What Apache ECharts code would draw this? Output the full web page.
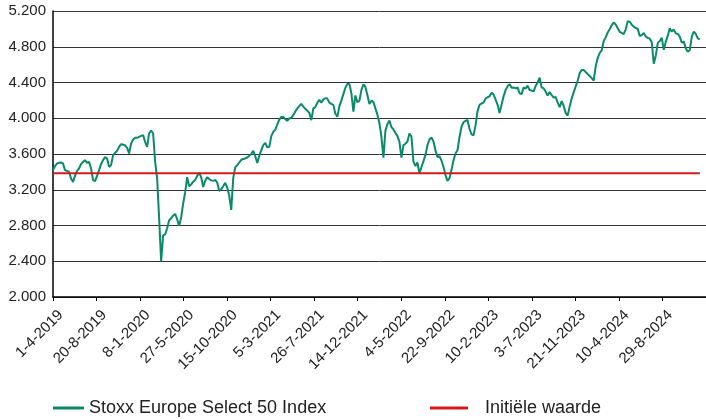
<!DOCTYPE html>
<html>
<head>
<meta charset="utf-8">
<script src="https://cdn.jsdelivr.net/npm/echarts@6/dist/echarts.min.js"></script>
<style>
  html, body { margin: 0; padding: 0; background: #fff; }
  #chart { width: 706px; height: 419px; }
</style>
</head>
<body>
<div id="chart"></div>
<script>
// tick labels on the x axis, one every 100 trading days
const tickLabels = ['1-4-2019', '20-8-2019', '8-1-2020', '27-5-2020', '15-10-2020', '5-3-2021',
    '26-7-2021', '14-12-2021', '4-5-2022', '22-9-2022', '10-2-2023', '3-7-2023',
    '21-11-2023', '10-4-2024', '29-8-2024'];

// one reading every STEP trading days
const STEP = 4.6;
const indexValues = [
    3419, 3464, 3494, 3501, 3505, 3494, 3419, 3412, 3400, 3326,
    3288, 3355, 3412, 3438, 3486, 3512, 3531, 3501, 3512, 3438,
    3307, 3296, 3355, 3419, 3486, 3531, 3565, 3550, 3456, 3475,
    3587, 3613, 3635, 3680, 3710, 3706, 3695, 3669, 3606, 3718,
    3762, 3781, 3781, 3792, 3803, 3811, 3736, 3680, 3830, 3863,
    3830, 3512, 3330, 2880, 2400, 2690, 2700, 2770, 2860, 2880,
    2910, 2930, 2870, 2795, 2890, 3046, 3170, 3340, 3240, 3260,
    3290, 3310, 3355, 3390, 3340, 3230, 3300, 3340, 3320, 3305,
    3300, 3310, 3280, 3185, 3205, 3240, 3278, 3225, 3135, 2975,
    3330, 3450, 3475, 3505, 3535, 3545, 3550, 3561, 3580, 3600,
    3635, 3575, 3500, 3580, 3640, 3700, 3725, 3675, 3680, 3800,
    3848, 3870, 3930, 3985, 4015, 4016, 3990, 3972, 3998, 4005,
    4035, 4075, 4110, 4135, 4160, 4130, 4105, 4085, 4060, 3979,
    4110, 4125, 4175, 4205, 4175, 4210, 4225, 4220, 4175, 4160,
    4150, 4050, 4016, 4136, 4197, 4270, 4342, 4383, 4383, 4280,
    4074, 4255, 4180, 4195, 4315, 4380, 4350, 4260, 4160, 4197,
    4180, 4110, 4040, 3945, 3792, 3560, 3862, 3934, 3975, 3900,
    3875, 3835, 3800, 3736, 3560, 3700, 3715, 3740, 3830, 3795,
    3515, 3465, 3505, 3380, 3455, 3520, 3590, 3700, 3762, 3785,
    3740, 3640, 3565, 3575, 3525, 3456, 3363, 3300, 3330, 3420,
    3530, 3606, 3643, 3790, 3905, 3955, 3970, 3980, 3880, 3820,
    3810, 3920, 4080, 4150, 4165, 4175, 4220, 4235, 4245, 4285,
    4265, 4210, 4150, 4060, 4150, 4245, 4315, 4360, 4380, 4340,
    4345, 4335, 4345, 4280, 4270, 4345, 4330, 4365, 4315, 4310,
    4300, 4360, 4400, 4455, 4345, 4335, 4300, 4255, 4293, 4260,
    4230, 4240, 4175, 4125, 4192, 4140, 4060, 4030, 4130, 4220,
    4290, 4355, 4420, 4505, 4539, 4539, 4517, 4494, 4472, 4449,
    4420, 4580, 4675, 4730, 4760, 4865, 4905, 4960, 4995, 5040,
    5070, 5050, 5008, 4967, 4955, 4940, 4995, 5085, 5080, 5047,
    5025, 5010, 5000, 4920, 4930, 4955, 4915, 4900, 4890, 4850,
    4610, 4700, 4840, 4865, 4900, 4765, 4855, 4924, 5006, 4969,
    4995, 4950, 4943, 4913, 4846, 4857, 4782, 4745, 4764, 4913,
    4969, 4943, 4894, 4883
];

const initialValue = 3385;
const seriesNames = ['Stoxx Europe Select 50 Index', 'Initiële waarde'];

const FONT = "'Liberation Sans', Arial, sans-serif";
const GREEN = '#0a8a68';
const RED = '#d7191c';

// 5200 -> "5.200"
function fmtThousands(v) {
    return String(v).replace(/\B(?=(\d{3})+(?!\d))/g, '.');
}

const chart = echarts.init(document.getElementById('chart'), null, { renderer: 'canvas' });

const lineData = indexValues.map((v, i) => [i * STEP, v]);
const lastX = (indexValues.length - 1) * STEP;

chart.setOption({
    animation: false,
    grid: { left: 53, right: 0, top: 11, bottom: 122, containLabel: false },
    legend: [{
        data: [seriesNames[0]],
        left: 53,
        top: 399,
        padding: 0,
        icon: 'rect',
        itemWidth: 31,
        itemHeight: 3,
        textStyle: { fontFamily: FONT, fontSize: 18, color: '#222' }
    }, {
        data: [seriesNames[1]],
        left: 430,
        top: 399,
        padding: 0,
        icon: 'rect',
        itemWidth: 38,
        itemHeight: 3,
        textStyle: { fontFamily: FONT, fontSize: 18, color: '#222', padding: [0, 0, 0, 12] }
    }],
    xAxis: {
        type: 'value',
        min: 0,
        max: 1500,
        interval: 100,
        splitLine: { show: false },
        axisLine: { lineStyle: { color: '#000', width: 1.5 } },
        axisTick: { show: true, length: 4, lineStyle: { color: '#000' } },
        axisLabel: {
            rotate: 45,
            margin: 8,
            verticalAlign: 'top',
            lineHeight: 22,
            fontFamily: FONT,
            fontSize: 15,
            color: '#222',
            showMaxLabel: false,
            formatter: function(v) {
                return tickLabels[Math.round(v / 100)] || '';
            }
        }
    },
    yAxis: {
        type: 'value',
        min: 2000,
        max: 5200,
        interval: 400,
        axisLine: { show: true, lineStyle: { color: '#000', width: 1.5 } },
        axisTick: { show: false },
        splitLine: { show: true, lineStyle: { color: '#333', width: 1 } },
        axisLabel: {
            margin: 7,
            fontFamily: FONT,
            fontSize: 15,
            color: '#222',
            formatter: fmtThousands
        }
    },
    series: [{
        name: seriesNames[0],
        type: 'line',
        data: lineData,
        showSymbol: false,
        symbol: 'none',
        lineStyle: { color: GREEN, width: 2 },
        itemStyle: { color: GREEN },
        z: 2
    }, {
        name: seriesNames[1],
        type: 'line',
        data: [[0, initialValue], [lastX, initialValue]],
        showSymbol: false,
        symbol: 'none',
        lineStyle: { color: RED, width: 2 },
        itemStyle: { color: RED },
        z: 3
    }]
});
</script>
</body>
</html>
